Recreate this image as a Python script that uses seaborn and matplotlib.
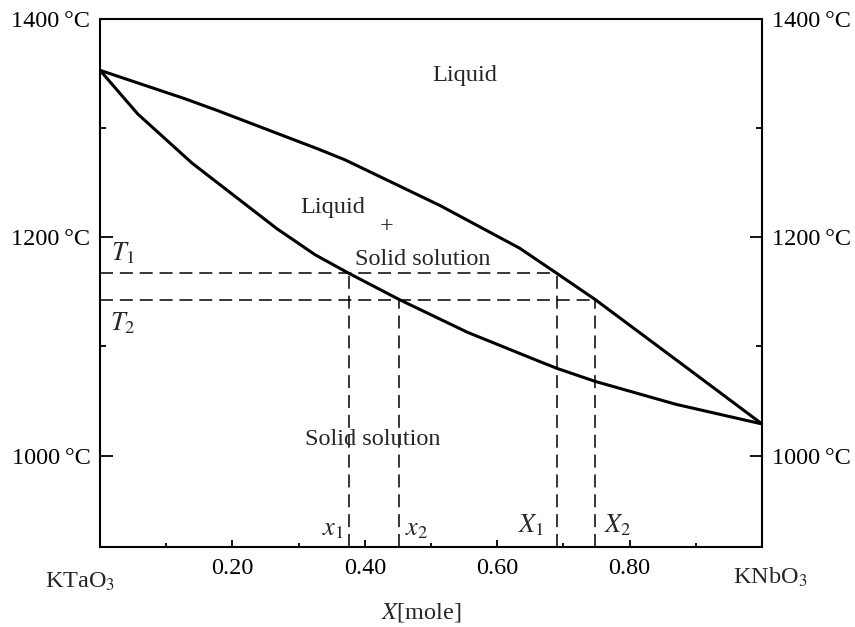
import matplotlib
matplotlib.use("Agg")
import matplotlib.pyplot as plt
import pandas as pd
import seaborn as sns

# Liquidus (upper boundary) of the KTaO3-KNbO3 system
liq_x = [0.0, 0.128, 0.178, 0.329, 0.370, 0.514, 0.634, 0.690, 0.748, 0.872, 1.0]
liq_T = [1353, 1327, 1316, 1281, 1271, 1229, 1190, 1167, 1143, 1087, 1029]

# Solidus (lower boundary)
sol_x = [0.0, 0.057, 0.139, 0.267, 0.325, 0.376, 0.452, 0.555, 0.665, 0.690, 0.748, 0.870, 1.0]
sol_T = [1353, 1313, 1268, 1208, 1184, 1167, 1143, 1113, 1086, 1080, 1068, 1047, 1029]

# Tie-line temperatures and the compositions they cut
temps = [1167, 1143]                 # T1, T2
solid_comp = [0.376, 0.452]          # x1, x2
liquid_comp = [0.690, 0.748]         # X1, X2

x_ticks = [0.2, 0.4, 0.6, 0.8]
x_tick_labels = ["0.20", "0.40", "0.60", "0.80"]
x_minor = [0.1, 0.3, 0.5, 0.7, 0.9]
y_ticks = [1000, 1200, 1400]
y_tick_labels = ["1000\u2009°C", "1200\u2009°C", "1400\u2009°C"]
y_minor = [1100, 1300]

sns.set_style("ticks")
plt.rcParams["font.family"] = ["Liberation Serif", "DejaVu Serif"]
plt.rcParams["mathtext.fontset"] = "stix"
plt.rcParams["font.size"] = 17.5

fig = plt.figure(figsize=(8.55, 6.27), dpi=100)
ax = fig.add_axes([0.11696, 0.1271, 0.77427, 0.8426])

curves = pd.concat([
    pd.DataFrame({"x": liq_x, "T": liq_T, "curve": "liquidus"}),
    pd.DataFrame({"x": sol_x, "T": sol_T, "curve": "solidus"}),
])
sns.lineplot(data=curves, x="x", y="T", units="curve", estimator=None,
             sort=False, color="black", lw=2.2, ax=ax, legend=False)

ymin, ymax = 916, 1400
dash = (0, (8.5, 4.5))
for T, xs, xl in zip(temps, solid_comp, liquid_comp):
    ax.plot([0, xl], [T, T], color="black", lw=1.1, linestyle=dash)
    ax.plot([xs, xs], [ymin, T], color="black", lw=1.1, linestyle=dash)
    ax.plot([xl, xl], [ymin, T], color="black", lw=1.1, linestyle=dash)

ax.set_xlim(0, 1)
ax.set_ylim(ymin, ymax)

ax.xaxis.set_major_locator(matplotlib.ticker.FixedLocator(x_ticks))
ax.xaxis.set_major_formatter(matplotlib.ticker.FixedFormatter(x_tick_labels))
ax.xaxis.set_minor_locator(matplotlib.ticker.FixedLocator(x_minor))
ax.yaxis.set_major_locator(matplotlib.ticker.FixedLocator(y_ticks))
ax.yaxis.set_major_formatter(matplotlib.ticker.FixedFormatter(y_tick_labels))
ax.yaxis.set_minor_locator(matplotlib.ticker.FixedLocator(y_minor))

ax.tick_params(axis="y", which="both", direction="in", left=True, right=True,
               labelleft=True, labelright=True, width=1.3, pad=7, colors="black")
ax.tick_params(axis="y", which="major", length=9)
ax.tick_params(axis="y", which="minor", length=4)
ax.tick_params(axis="x", which="both", direction="in", bottom=True, top=False,
               width=1.3, pad=8, colors="black")
ax.tick_params(axis="x", which="major", length=5)
ax.tick_params(axis="x", which="minor", length=3)
for s in ax.spines.values():
    s.set_linewidth(1.5)
    s.set_color("black")

ax.set_ylabel("")
ax.set_xlabel("$X$[mole]")
ax.xaxis.label.set_va("center")
ax.xaxis.set_label_coords(0.485, -0.124)

# End-member labels
ax.text(-0.030, -0.066, "KTaO$_3$", transform=ax.transAxes, ha="center", va="center")
ax.text(1.012, -0.056, "KNbO$_3$", transform=ax.transAxes, ha="center", va="center")

# Phase field labels
ax.text(0.551, 1348, "Liquid", ha="center", va="center")
ax.text(0.352, 1227, "Liquid", ha="center", va="center")
ax.text(0.433, 1210, "+", ha="center", va="center")
ax.text(0.487, 1180, "Solid solution", ha="center", va="center")
ax.text(0.412, 1015, "Solid solution", ha="center", va="center")

# Tie-line annotations
ax.text(0.035, 1185, "$T_1$", ha="center", va="center", fontsize=19)
ax.text(0.035, 1121, "$T_2$", ha="center", va="center", fontsize=19)
ax.text(0.352, 932, "$x_1$", ha="center", va="center", fontsize=19)
ax.text(0.479, 932, "$x_2$", ha="center", va="center", fontsize=19)
ax.text(0.651, 936, "$X_1$", ha="center", va="center", fontsize=19)
ax.text(0.783, 936, "$X_2$", ha="center", va="center", fontsize=19)

fig.savefig("out.png", dpi=100)
